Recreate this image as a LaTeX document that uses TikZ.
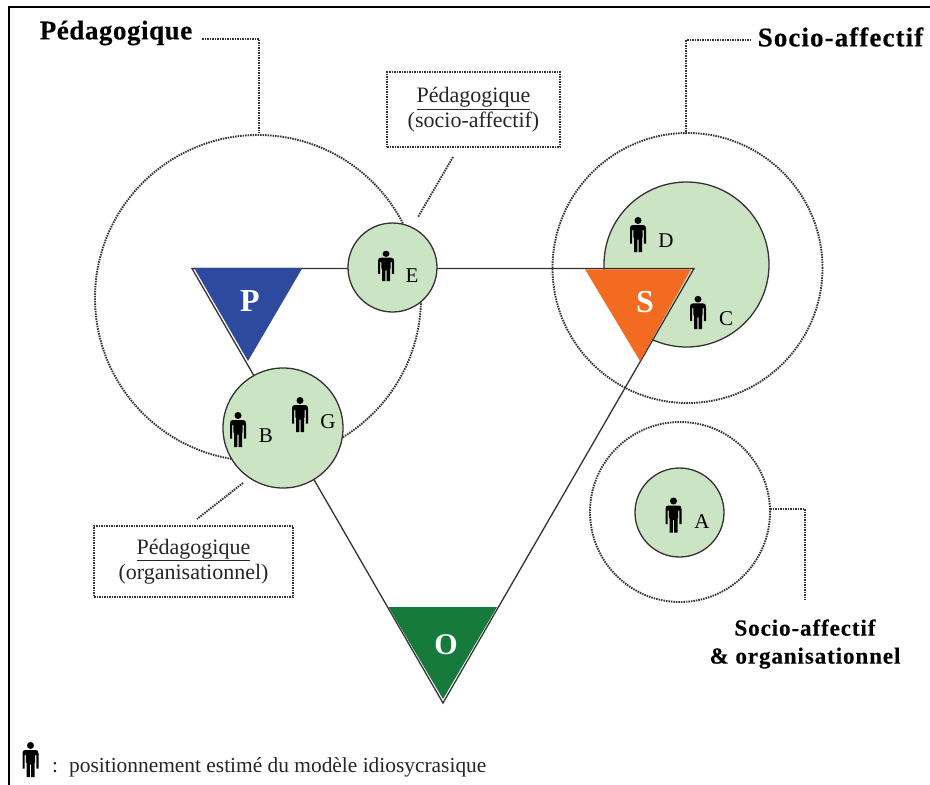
\documentclass[tikz,border=0pt]{standalone}
\usepackage{fontspec}
\setmainfont{Liberation Serif}
\newfontfamily\headA[LetterSpace=2,FakeBold=0.3]{Liberation Serif Bold}
\newfontfamily\headB[LetterSpace=4,FakeBold=0.3]{Liberation Serif Bold}
\definecolor{pblue}{HTML}{2E4A9E}
\definecolor{sorange}{HTML}{F26B21}
\definecolor{ogreen}{HTML}{157A3C}
\definecolor{zonegreen}{HTML}{CBE4C3}
\definecolor{lineink}{HTML}{333333}
\tikzset{
  dotline/.style={line width=1.9pt,draw=lineink,dash pattern=on 1.5pt off 1pt},
  bigzone/.style={circle,inner sep=0pt,dotline,minimum size=#1},
  zone/.style={circle,inner sep=0pt,draw=lineink,line width=1.3pt,fill=zonegreen,minimum size=#1},
  edge line/.style={draw=lineink,line width=1.3pt},
  poleletter/.style={text=white,font=\fontsize{32}{32}\selectfont\bfseries,inner sep=0pt},
  who/.style={font=\fontsize{21}{21}\selectfont,text=black,inner sep=0pt},
  heading/.style={font=\fontsize{27}{27}\selectfont\headA,inner sep=0pt},
  headingb/.style={font=\fontsize{27}{27}\selectfont\headB,inner sep=0pt},
  subheading/.style={font=\fontsize{23}{28}\selectfont\headB,inner sep=0pt,align=center},
  notebox/.style={dotline,inner sep=0pt,align=center,font=\fontsize{22}{24.5}\selectfont,text=black!85},
  person/.pic={
    \fill[black] (0,-14) circle (3.5);
    \fill[black] (-8,9) -- (-8,-6) .. controls (-8,-8.5) and (-7,-9.5) .. (-5,-9.5) -- (5,-9.5)
      .. controls (7,-9.5) and (8,-8.5) .. (8,-6) -- (8,9) -- (5.9,9) -- (5.9,-4.5) -- (4.7,-4.5)
      -- (4.7,3) -- (4,3) -- (4,17.5) -- (0.6,17.5) -- (0.6,5) -- (-0.6,5) -- (-0.6,17.5) -- (-4,17.5) -- (-4,3) -- (-4.7,3) -- (-4.7,-4.5)
      -- (-5.9,-4.5) -- (-5.9,9) -- cycle;
  }
}
\begin{document}
\begin{tikzpicture}[x=1pt,y=-1pt]
\useasboundingbox (0,0) rectangle (930,785);
\fill[white] (0,0) rectangle (930,785);
% frame
\coordinate (frameR) at (930,7);
\coordinate (frameC) at (9.3,7);
\coordinate (frameB) at (9.3,785);
\draw[line width=2pt,black] (frameR) -- (frameC) -- (frameB);
% outer zones
\node[bigzone=326pt] (pedzone) at (258,298) {};
\node[bigzone=270pt] (soczone) at (687.5,268) {};
\node[bigzone=180pt] (orgzone) at (680,512) {};
% socio-affective green zone under the triangle
\node[zone=165pt] (zoneCD) at (686.5,264.5) {};
% triangle skeleton
\coordinate (tl) at (192,268.5);
\coordinate (tr) at (694,268.5);
\coordinate (ta) at (443,703);
\draw[edge line,line join=miter] (tl) -- (tr) -- (ta) -- cycle;
% poles
\fill[pblue] (194,267.8) -- (302.5,267.8) -- (248,361) -- cycle;
\fill[sorange] (585,269.3) -- (691,269.3) -- (640,361) -- cycle;
\fill[ogreen] (388.5,607) -- (497,607) -- (443,699) -- cycle;
\node[poleletter] (P) at (250,301) {P};
\node[poleletter] (S) at (645,302) {S};
\node[poleletter,font=\fontsize{30}{30}\selectfont\bfseries] (O) at (446,645) {O};
% green zones on top of the edges
\node[zone=89pt] (zoneE) at (392.5,267.5) {};
\node[zone=120pt] (zoneBG) at (283,428) {};
\node[zone=89pt] (zoneA) at (679.5,512.5) {};
% persons
\pic[yscale=.87] at (386,266) {person};
\pic at (238,429.5) {person};
\pic at (300,414.5) {person};
\pic at (638,234.5) {person};
\pic[yscale=.95] at (698,312.5) {person};
\pic at (673.5,515) {person};
\pic at (30.5,759.5) {person};
% letters
\node[who] (E) at (412,276) {E};
\node[who] (B) at (266,436) {B};
\node[who] (G) at (328,422) {G};
\node[who] (D) at (666,241) {D};
\node[who] (C) at (726,319) {C};
\node[who] (A) at (702,522) {A};
% headings
\node[heading] (hped) at (116,33) {Pédagogique};
\node[headingb] (hsoc) at (840.5,37) {Socio-affectif};
\node[subheading] (horg) at (805,644) {Socio-affectif\\\& organisationnel};
% note boxes
\node[notebox,minimum width=173pt,minimum height=75pt] (boxE) at (473.5,109.5) {\underline{Pédagogique}\\(socio-affectif)};
\node[notebox,minimum width=199pt,minimum height=71pt] (boxBG) at (193.5,561.5) {\underline{Pédagogique}\\(organisationnel)};
% leaders
\coordinate (l1a) at (202,39);
\coordinate (l1b) at (259,39);
\coordinate (l1c) at (259,133);
\draw[dotline] (l1a) -- (l1b) -- (l1c);
\coordinate (l2a) at (751,40);
\coordinate (l2b) at (686,40);
\coordinate (l2c) at (686,133);
\draw[dotline] (l2a) -- (l2b) -- (l2c);
\coordinate (l3a) at (770,509);
\coordinate (l3b) at (805,509);
\coordinate (l3c) at (805,600);
\draw[dotline] (l3a) -- (l3b) -- (l3c);
\coordinate (l4a) at (453,157);
\coordinate (l4b) at (418,217);
\draw[dotline] (l4a) -- (l4b);
\coordinate (l5a) at (243,483);
\coordinate (l5b) at (197,519);
\draw[dotline] (l5a) -- (l5b);
% legend
\node[anchor=west,inner sep=0pt,font=\fontsize{21.4}{24}\selectfont,text=black!85] (legend) at (52,767) {:\hspace{11pt}positionnement estimé du modèle idiosycrasique};
\end{tikzpicture}
\end{document}
